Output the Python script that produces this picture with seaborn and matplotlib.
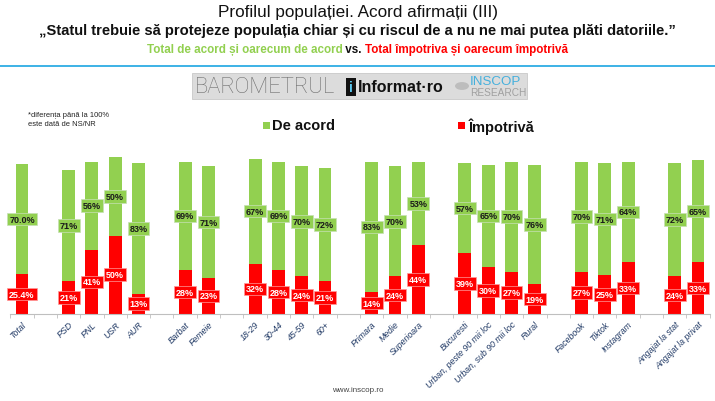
import matplotlib
matplotlib.use("Agg")
import matplotlib.pyplot as plt
import seaborn as sns
import pandas as pd
import numpy as np
from matplotlib.patches import Rectangle, Circle

# ---- data ----
groups = [
    ["Total"],
    ["PSD", "PNL", "USR", "AUR"],
    ["Barbat", "Femeie"],
    ["18-29", "30-44", "45-59", "60+"],
    ["Primara", "Medie", "Superioara"],
    ["Bucuresti", "Urban, peste 90 mii loc", "Urban, sub 90 mii loc", "Rural"],
    ["Facebook", "Tiktok", "Instagram"],
    ["Angajat la stat", "Angajat la privat"],
]
categories = [c for g in groups for c in g]
acord = [70.0, 71, 56, 50, 83, 69, 71, 67, 69, 70, 72, 83, 70, 53,
         57, 65, 70, 76, 70, 71, 64, 72, 65]
impotriva = [25.4, 21, 41, 50, 13, 28, 23, 32, 28, 24, 21, 14, 24, 44,
             39, 30, 27, 19, 27, 25, 33, 24, 33]
decimals = {"Total": 1}

GREEN = "#92D050"
RED = "#FF0000"
TICKC = "#1F3864"

# order with gap slots between groups
order = []
for gi, g in enumerate(groups):
    if gi > 0:
        order.append(f"__gap{gi}")
    order.extend(g)

df = pd.DataFrame({"cat": categories, "acord": acord, "impotriva": impotriva})
df["total"] = df["acord"] + df["impotriva"]

W, H = 715, 402
fig = plt.figure(figsize=(W / 100, H / 100), dpi=100)
fig.patch.set_facecolor("white")

def fx(px):
    return px / W

def fy(py):
    return 1 - py / H

ax = fig.add_axes([fx(10.3), fy(315), fx(709.7) - fx(10.3), (315 - 158) / H])
sns.barplot(data=df, x="cat", y="total", order=order, color=GREEN,
            width=0.55, saturation=1, ax=ax, linewidth=0)
sns.barplot(data=df, x="cat", y="impotriva", order=order, color=RED,
            width=0.55, saturation=1, ax=ax, linewidth=0)
ax.set_ylim(0, 100)
ax.set_xlim(-0.5, len(order) - 0.5)

pos = {c: i for i, c in enumerate(order)}
for c, a, r in zip(categories, acord, impotriva):
    d = decimals.get(c, 0)
    x = pos[c]
    ax.text(x, r + a / 2, f"{a:.{d}f}%", ha="center", va="center",
            fontsize=6.5, fontweight="bold", color="#1a1a1a",
            family="Liberation Sans",
            bbox=dict(boxstyle="square,pad=0.2", fc=GREEN, ec="#C6E0B4", lw=0.5))
    ax.text(x, r / 2, f"{r:.{d}f}%", ha="center", va="center",
            fontsize=6.5, fontweight="bold", color="white",
            family="Liberation Sans",
            bbox=dict(boxstyle="square,pad=0.2", fc=RED, ec="#FF9999", lw=0.5))

ax.set_xticks(range(len(order)))
ax.set_xticklabels(["" if c.startswith("__gap") else c for c in order],
                   rotation=45, ha="right", rotation_mode="anchor",
                   fontsize=6.3, color=TICKC, family="Liberation Sans",
                   style="italic")
ax.tick_params(axis="x", which="major", length=0, pad=4)
ax.set_xticks(np.arange(-0.5, len(order), 1), minor=True)
ax.tick_params(axis="x", which="minor", length=3, color="#BFBFBF", width=0.6)
ax.set_yticks([])
ax.set_xlabel("")
ax.set_ylabel("")
for s in ["top", "right", "left"]:
    ax.spines[s].set_visible(False)
ax.spines["bottom"].set_color("#BFBFBF")
ax.spines["bottom"].set_linewidth(0.8)
ax.set_facecolor("none")

# ---- titles ----
fam = ["Liberation Sans"]
fig.text(0.5, fy(13), "Profilul populației. Acord afirmații (III)", ha="center",
         va="center", fontsize=12.3, family=fam, color="#111111")
fig.text(0.5, fy(31), "„Statul trebuie să protejeze populația chiar și cu riscul de a nu ne mai putea plăti datoriile.”",
         ha="center", va="center", fontsize=10.6, family=fam,
         fontweight="bold", color="#111111")

# third line (three colored parts)
t1 = "Total de acord și oarecum de acord"
t2 = " vs. "
t3 = "Total împotriva și oarecum împotrivă"
renderer = fig.canvas.get_renderer()
parts = []
for t, col in [(t1, GREEN), (t2, "#111111"), (t3, RED)]:
    parts.append(fig.text(0, fy(50), t, ha="left", va="center", fontsize=8.4,
                          family=fam, fontweight="bold", color=col))
widths = [p.get_window_extent(renderer).width for p in parts]
x0 = (W - sum(widths)) / 2
for p, w in zip(parts, widths):
    p.set_x(x0 / W)
    x0 += w

# blue separator line
fig.add_artist(Rectangle((0, fy(68)), 1, 2.2 / H, transform=fig.transFigure,
                         fc="#41B4E6", ec="none"))

# ---- logo banner ----
fig.add_artist(Rectangle((fx(192), fy(100)), fx(527) - fx(192), 26 / H,
                         transform=fig.transFigure, fc="#DCDCDC", ec="#C8C8C8", lw=0.6))
fig.text(fx(195), fy(87.5), "BAROMETRUL", ha="left", va="center", fontsize=15.8,
         family="Roboto", fontweight="light", color="#6E6E6E")
fig.add_artist(Rectangle((fx(346), fy(97)), 10 / W, 18 / H,
                         transform=fig.transFigure, fc="#111111", ec="none"))
fig.text(fx(351), fy(88), "i", ha="center", va="center", fontsize=10,
         family="Liberation Sans", fontweight="bold", color="#5BC8F0")
fig.text(fx(358), fy(88), "Informat·ro", ha="left", va="center", fontsize=11.5,
         family="Liberation Sans", fontweight="bold", color="#111111")
fig.add_artist(Circle((fx(462), fy(87)), 7 / W, transform=fig.transFigure,
                      fc="#BDBDBD", ec="none"))
fig.text(fx(470), fy(82), "INSCOP", ha="left", va="center", fontsize=9.6,
         family="Liberation Sans", color="#45B0DC")
fig.text(fx(470), fy(93), "RESEARCH", ha="left", va="center", fontsize=7.3,
         family="Liberation Sans", color="#A0A0A0")

# footnote
fig.text(fx(28), fy(120), "*diferența până la 100%\neste dată de NS/NR",
         ha="left", va="center", fontsize=5.4, family="Liberation Sans",
         color="#222222", linespacing=1.3)

# ---- legend ----
fig.add_artist(Rectangle((fx(263), fy(130)), 7 / W, 7 / H,
                         transform=fig.transFigure, fc=GREEN, ec="none"))
fig.text(fx(272), fy(126.5), "De acord", ha="left", va="center", fontsize=10.5,
         family="Liberation Sans", fontweight="bold", color="#111111")
fig.add_artist(Rectangle((fx(458), fy(130)), 7 / W, 7 / H,
                         transform=fig.transFigure, fc=RED, ec="none"))
fig.text(fx(469), fy(126.5), "Împotrivă", ha="left", va="center", fontsize=10.5,
         family="Liberation Sans", fontweight="bold", color="#111111")

# footer
fig.text(0.5, fy(391), "www.inscop.ro", ha="center", va="center", fontsize=5.8,
         family="Liberation Sans", color="#444444")

fig.savefig("out.png", dpi=100, facecolor="white")
